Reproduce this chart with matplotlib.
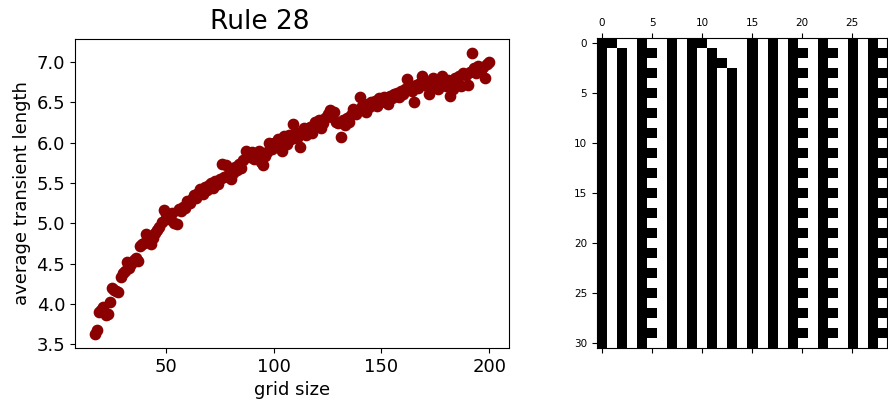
import numpy as np
import matplotlib
matplotlib.use('Agg')
import matplotlib.pyplot as plt

# grid sizes and averaged transient lengths
grid_sizes = np.arange(17, 201)
avg_transient = [
    3.63, 3.68, 3.90, 3.93, 3.97, 3.86, 3.88, 4.02, 4.20, 4.18,
    4.16, 4.15, 4.33, 4.38, 4.41, 4.52, 4.45, 4.50, 4.55, 4.57,
    4.53, 4.72, 4.74, 4.76, 4.87, 4.80, 4.74, 4.82, 4.88, 4.92,
    4.95, 5.02, 5.17, 5.12, 5.05, 5.10, 5.13, 5.00, 4.99, 5.18,
    5.15, 5.20, 5.19, 5.28, 5.25, 5.30, 5.35, 5.31, 5.38, 5.42,
    5.36, 5.45, 5.41, 5.48, 5.50, 5.44, 5.52, 5.49, 5.55, 5.73,
    5.58, 5.72, 5.60, 5.55, 5.63, 5.70, 5.66, 5.74, 5.68, 5.78,
    5.90, 5.85, 5.82, 5.88, 5.80, 5.86, 5.90, 5.76, 5.72, 5.84,
    5.88, 5.99, 5.92, 6.00, 5.96, 6.05, 6.02, 5.90, 6.08, 5.98,
    6.10, 6.04, 6.23, 6.12, 6.06, 5.95, 6.14, 6.18, 6.10, 6.16,
    6.20, 6.12, 6.26, 6.22, 6.28, 6.18, 6.24, 6.30, 6.36, 6.40,
    6.32, 6.38, 6.25, 6.24, 6.07, 6.28, 6.22, 6.30, 6.26, 6.34,
    6.42, 6.36, 6.40, 6.56, 6.45, 6.48, 6.38, 6.44, 6.50, 6.47,
    6.52, 6.45, 6.55, 6.50, 6.56, 6.53, 6.48, 6.58, 6.55, 6.60,
    6.62, 6.57, 6.64, 6.60, 6.66, 6.79, 6.70, 6.64, 6.50, 6.72,
    6.68, 6.74, 6.83, 6.76, 6.70, 6.60, 6.75, 6.80, 6.72, 6.66,
    6.78, 6.82, 6.74, 6.70, 6.78, 6.58, 6.66, 6.80, 6.76, 6.82,
    6.70, 6.86, 6.84, 6.72, 6.88, 7.11, 6.92, 6.86, 6.95, 6.90,
    6.94, 6.80, 6.98, 7.00,
]

# space-time diagram, one string per time step (1 = black cell)
ca_rows = [
    "11001001011000010101001001010",
    "10101101010100010101101101011",
    "10101001010110010101001001010",
    "10101101010101010101101101011",
] + ["10101001010101010101001001010",
     "10101101010101010101101101011"] * 13 + [
    "10101001010101010101001001010",
]
ca_grid = np.array([[int(ch) for ch in row] for row in ca_rows])

fig = plt.figure(figsize=(8.88, 4.05), dpi=100)

ax1 = fig.add_axes([75/888, 1 - 348/405, 434/888, 309/405])
ax1.scatter(grid_sizes, avg_transient, s=55, color='darkred')
ax1.set_xticks([50, 100, 150, 200])
ax1.set_yticks(np.arange(3.5, 7.01, 0.5))
ax1.tick_params(labelsize=13)
ax1.set_xlabel("grid size", fontsize=13)
ax1.set_ylabel("average transient length", fontsize=13)
fig.text(260/888, 1 - 22/405, "Rule 28", fontsize=19, ha='center', va='center')

ax2 = fig.add_axes([597/888, 1 - 348/405, 290/888, 310/405])
ax2.matshow(ca_grid, cmap='binary', aspect='auto')
ax2.tick_params(labelsize=7.5)

fig.savefig("out.png", dpi=100)
